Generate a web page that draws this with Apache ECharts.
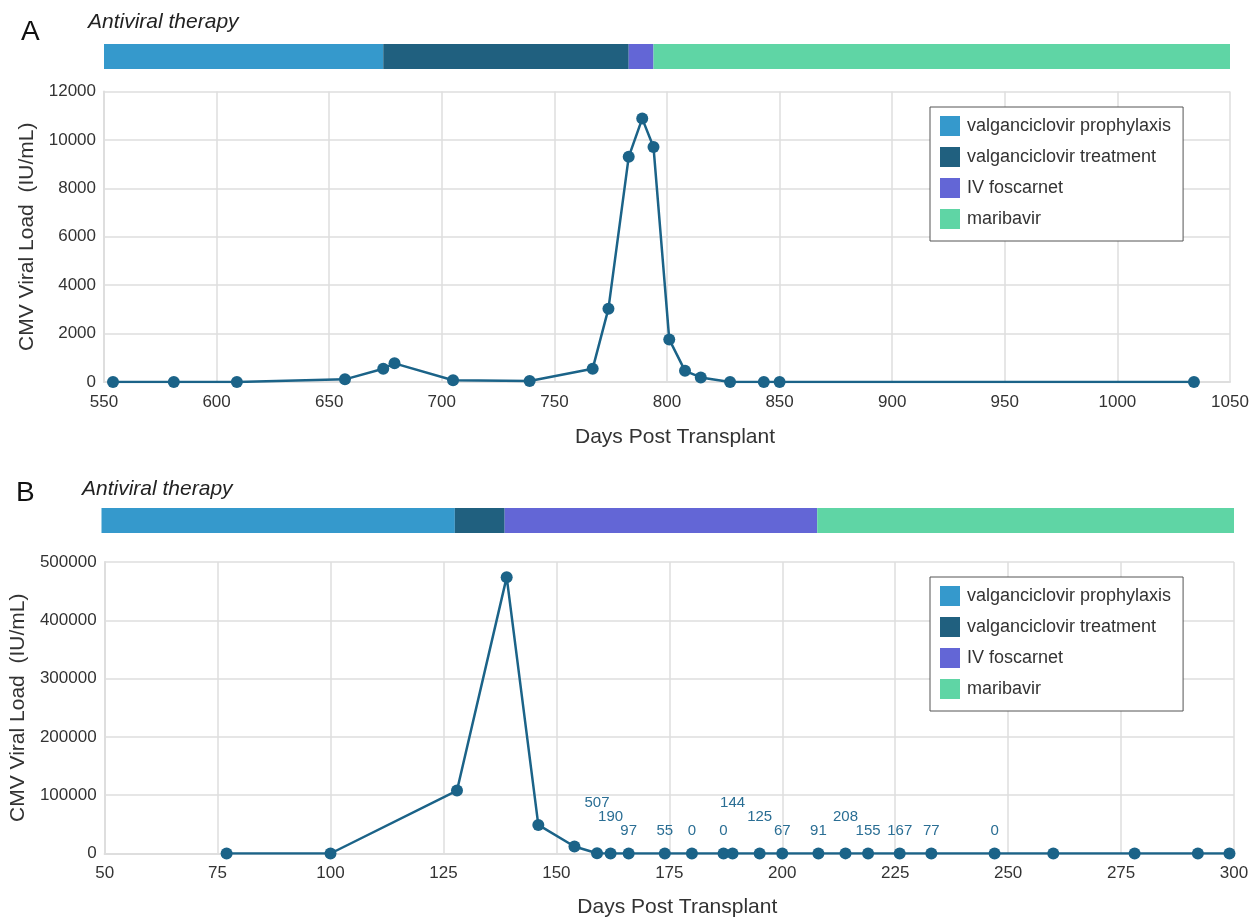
<!DOCTYPE html>
<html>
<head>
<meta charset="utf-8">
<script src="https://cdn.jsdelivr.net/npm/echarts@6/dist/echarts.min.js"></script>
<style>html,body{margin:0;padding:0;background:#fff;}#c{width:1255px;height:921px;}</style>
</head>
<body>
<div id="c"></div>
<script>
// ---------- DATA ----------
const therapyNames = ['valganciclovir prophylaxis', 'valganciclovir treatment', 'IV foscarnet', 'maribavir'];
const therapyColors = ['#3599cc', '#20607f', '#6366d6', '#5fd5a5'];

// Panel A therapy periods (days post transplant): [start, end]
const therapyA = [[550, 674], [674, 783], [783, 794], [794, 1050]];
// Panel B therapy periods
const therapyB = [[50, 128], [128, 139], [139, 208], [208, 300]];

// Panel A viral load
const daysA = [554, 581, 609, 657, 674, 679, 705, 739, 767, 774, 783, 789, 794, 801, 808, 815, 828, 843, 850, 1034];
const loadA = [0, 0, 0, 110, 550, 770, 70, 40, 550, 3030, 9300, 10880, 9710, 1760, 460, 190, 0, 0, 0, 0];

// Panel B viral load
const daysB = [77, 100, 128, 139, 146, 154, 159, 162, 166, 174, 180, 187, 189, 195, 200, 208, 214, 219, 226, 233, 247, 260, 278, 292, 299];
const loadB = [0, 0, 108000, 474000, 49000, 12000, 507, 190, 97, 55, 0, 0, 144, 125, 67, 91, 208, 155, 167, 77, 0, 0, 0, 0, 0];
// which points of B carry a value label (1 = shown)
const labeledB = [0, 0, 0, 0, 0, 0, 1, 1, 1, 1, 1, 1, 1, 1, 1, 1, 1, 1, 1, 1, 1, 0, 0, 0, 0];

// axis ticks
const xTicksA = {min: 550, max: 1050, step: 50};
const yTicksA = {min: 0, max: 12000, step: 2000};
const xTicksB = {min: 50, max: 300, step: 25};
const yTicksB = {min: 0, max: 500000, step: 100000};

// ---------- LAYOUT / STYLE ----------
const FONT = '"Liberation Sans", Arial, Helvetica, sans-serif';
const LINE = '#1b6388';
const GRIDC = '#dedede';
// stagger rows for B value labels (layout only)
const labelTierB = [0, 0, 0, 0, 0, 0, 2, 1, 0, 0, 0, 0, 2, 1, 0, 0, 1, 0, 0, 0, 0, 0, 0, 0, 0];

const chart = echarts.init(document.getElementById('c'), null, {renderer: 'canvas'});

function barRender(params, api) {
  const s = api.coord([api.value(0), 1]);
  const e = api.coord([api.value(1), 0]);
  return {type: 'rect', shape: {x: s[0], y: s[1], width: e[0] - s[0], height: e[1] - s[1]},
          style: {fill: api.visual('color')}};
}

function therapySeries(periods, axisIdx) {
  return therapyNames.map((n, i) => ({
    type: 'custom', name: n, xAxisIndex: axisIdx, yAxisIndex: axisIdx,
    renderItem: barRender, itemStyle: {color: therapyColors[i]},
    data: [periods[i]], encode: {x: [0, 1]}, silent: true
  }));
}

function plotX(t, gridIdx, margin, nameGap) {
  return {gridIndex: gridIdx, type: 'value', min: t.min, max: t.max, interval: t.step,
    name: 'Days Post Transplant', nameLocation: 'middle', nameGap: nameGap,
    nameTextStyle: {fontSize: 21, color: '#333', fontFamily: FONT, padding: [0, 0, 0, 16]},
    axisLine: {show: true, lineStyle: {color: GRIDC, width: 2}},
    axisTick: {show: false},
    axisLabel: {fontSize: 17, color: '#333', fontFamily: FONT, margin: margin, formatter: v => String(v)},
    splitLine: {show: true, lineStyle: {color: GRIDC, width: 1.5}}};
}
function plotY(t, gridIdx, nameGap) {
  return {gridIndex: gridIdx, type: 'value', min: t.min, max: t.max, interval: t.step,
    name: 'CMV Viral Load  (IU/mL)', nameLocation: 'middle', nameGap: nameGap,
    nameTextStyle: {fontSize: 21, color: '#333', fontFamily: FONT},
    axisLine: {show: true, lineStyle: {color: GRIDC, width: 2}},
    axisTick: {show: false},
    axisLabel: {fontSize: 17, color: '#333', fontFamily: FONT, margin: 8, formatter: v => String(v)},
    splitLine: {show: true, lineStyle: {color: GRIDC, width: 1.5}}};
}
function hiddenX(t, gridIdx) {
  return {gridIndex: gridIdx, type: 'value', min: t.min, max: t.max, show: false, splitLine: {show: false}};
}
function hiddenY(gridIdx) {
  return {gridIndex: gridIdx, type: 'value', min: 0, max: 1, show: false, splitLine: {show: false}};
}

function legendAt(top) {
  return {orient: 'vertical', left: 930, top: top, data: therapyNames,
    icon: 'rect', itemWidth: 20, itemHeight: 20, itemGap: 11,
    padding: [9, 12, 12, 10], borderColor: '#555', borderWidth: 1, backgroundColor: '#fff',
    selectedMode: false,
    textStyle: {fontSize: 18, color: '#333', fontFamily: FONT, padding: [0, 0, 0, 2]}};
}

const seriesB = {
  type: 'line', xAxisIndex: 3, yAxisIndex: 3,
  data: daysB.map((d, i) => {
    const item = {value: [d, loadB[i]]};
    if (labeledB[i]) {
      item.label = {show: true, position: 'top', distance: 9 + labelTierB[i] * 14,
        formatter: String(loadB[i]), color: '#2a6e94', fontSize: 15, fontFamily: FONT};
    }
    return item;
  }),
  symbol: 'circle', symbolSize: 12, itemStyle: {color: LINE},
  lineStyle: {color: LINE, width: 2.5}, z: 5
};

const option = {
  animation: false,
  backgroundColor: '#fff',
  textStyle: {fontFamily: FONT},
  grid: [
    {left: 104, top: 44, width: 1126, height: 25},
    {left: 104, top: 91.5, width: 1126, height: 290.5},
    {left: 101.5, top: 508, width: 1132.5, height: 25},
    {left: 101.5, top: 562, width: 1132.5, height: 291.5}
  ],
  xAxis: [hiddenX(xTicksA, 0), plotX(xTicksA, 1, 11.5, 45), hiddenX(xTicksB, 2), plotX(xTicksB, 3, 11, 43.5)],
  yAxis: [hiddenY(0), plotY(yTicksA, 1, 63), hiddenY(2), plotY(yTicksB, 3, 67)],
  legend: [legendAt(107), legendAt(577)],
  graphic: [
    {type: 'text', left: 21, top: 18, style: {text: 'A', fontSize: 28, fill: '#111', fontFamily: FONT}},
    {type: 'text', left: 88, top: 12, style: {text: 'Antiviral therapy', fontSize: 21, fontStyle: 'italic', fill: '#222', fontFamily: FONT}},
    {type: 'text', left: 16, top: 479, style: {text: 'B', fontSize: 28, fill: '#111', fontFamily: FONT}},
    {type: 'text', left: 82, top: 479, style: {text: 'Antiviral therapy', fontSize: 21, fontStyle: 'italic', fill: '#222', fontFamily: FONT}}
  ],
  series: [
    ...therapySeries(therapyA, 0),
    {type: 'line', xAxisIndex: 1, yAxisIndex: 1, data: daysA.map((d, i) => [d, loadA[i]]),
      symbol: 'circle', symbolSize: 12, itemStyle: {color: LINE}, lineStyle: {color: LINE, width: 2.5}, z: 5},
    ...therapySeries(therapyB, 2),
    seriesB
  ]
};
chart.setOption(option);
</script>
</body>
</html>
